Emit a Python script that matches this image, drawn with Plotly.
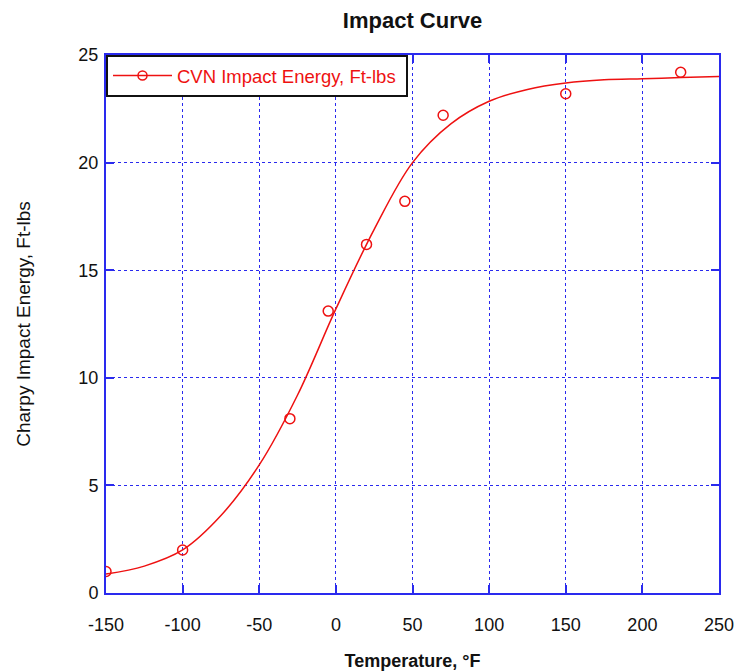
import plotly.graph_objects as go

# Measured data points
temps = [-150, -100, -30, -5, 20, 45, 70, 150, 225]
energy = [1.0, 2.0, 8.1, 13.1, 16.2, 18.2, 22.2, 23.2, 24.2]

# Fitted curve
curve_t = [-150, -125, -100, -75, -50, -25, 0, 25, 50, 75, 100, 125, 150, 175, 200, 225, 250]
curve_e = [0.88, 1.25, 2.0, 3.6, 5.95, 9.2, 13.2, 16.9, 20.0, 21.8, 22.85, 23.4, 23.7, 23.85, 23.9, 23.95, 24.0]

x_ticks = [-150, -100, -50, 0, 50, 100, 150, 200, 250]
x_labels = ["-150", "-100", "-50", "0", "50", "100", "150", "200", "250"]
y_ticks = [0, 5, 10, 15, 20, 25]
y_labels = ["0", "5", "10", "15", "20", "25"]

RED = "#ee1111"
BLUE = "#2a2aee"
FONT = "Arial, Liberation Sans, sans-serif"
DARK = "#111111"

fig = go.Figure()
fig.add_trace(go.Scatter(x=curve_t, y=curve_e, mode="lines", line=dict(color=RED, width=1.5, shape="spline", smoothing=1.0),
                         showlegend=False, hoverinfo="skip"))
fig.add_trace(go.Scatter(x=temps, y=energy, mode="markers",
                         marker=dict(symbol="circle-open", size=10, color=RED, line=dict(width=1.5, color=RED)),
                         showlegend=False))
fig.add_trace(go.Scatter(x=[None], y=[None], mode="lines+markers", name="CVN Impact Energy, Ft-lbs\u00a0",
                         line=dict(color=RED, width=1.5),
                         marker=dict(symbol="circle-open", size=9, color=RED, line=dict(width=1.5, color=RED))))

axis_common = dict(showline=True, linecolor=BLUE, linewidth=2, mirror="ticks",
                   ticks="inside", ticklen=8, tickcolor=BLUE, tickwidth=2,
                   showgrid=True, gridcolor=BLUE, gridwidth=1, griddash="dot",
                   zeroline=False, automargin=False, tickfont=dict(family=FONT, size=18, color=DARK))

fig.update_xaxes(range=[-150, 250], tickvals=x_ticks, ticktext=x_labels, ticklabelstandoff=14, **axis_common,
                 title=dict(text="<b>Temperature, °F</b>", font=dict(family=FONT, size=18, color=DARK), standoff=21))
fig.update_yaxes(range=[0, 25], tickvals=y_ticks, ticktext=y_labels, ticklabelstandoff=2, **axis_common,
                 title=dict(text="Charpy Impact Energy, Ft-lbs", font=dict(family=FONT, size=19, color=DARK), standoff=43))

fig.update_layout(
    width=735, height=671,
    margin=dict(l=106, r=16, t=55, b=78),
    paper_bgcolor="white", plot_bgcolor="white",
    title=dict(text="<b>Impact Curve</b>", x=0.5, xref="paper", y=0.97, yref="container", yanchor="middle",
               font=dict(family=FONT, size=22, color=DARK)),
    legend=dict(x=0, y=1, xanchor="left", yanchor="top", bgcolor="white",
                bordercolor=DARK, borderwidth=2,
                font=dict(family=FONT, size=18.5, color=RED),
                itemwidth=59, tracegroupgap=0),
)

fig.write_html("out.html", config={"displayModeBar": False},
               post_script="document.body.style.margin='0';document.body.style.overflow='hidden';")
